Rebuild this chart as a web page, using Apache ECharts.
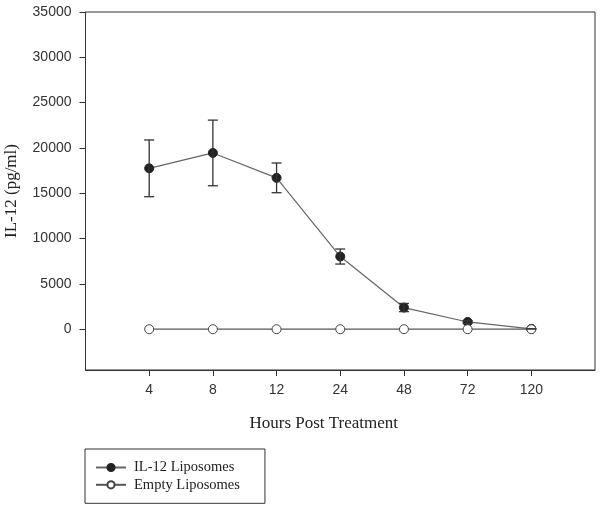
<!DOCTYPE html>
<html>
<head>
<meta charset="utf-8">
<script src="https://cdn.jsdelivr.net/npm/echarts@6/dist/echarts.min.js"></script>
<style>html,body{margin:0;padding:0;background:#fff}#c{width:602px;height:510px}</style>
</head>
<body>
<div id="c"></div>
<script>
var categories = ['4', '8', '12', '24', '48', '72', '120'];
var il12Values = [17750, 19450, 16700, 8020, 2390, 800, 40];
var il12Errors = [3130, 3620, 1640, 830, 450, 150, 0];
var emptyValues = [0, 0, 0, 0, 0, 0, 0];
var yTicks = [0, 5000, 10000, 15000, 20000, 25000, 30000, 35000];

var xPositions = categories.map(function (c, i) { return i + 1; });
var il12Data = il12Values.map(function (v, i) { return [xPositions[i], v]; });
var emptyData = emptyValues.map(function (v, i) { return [xPositions[i], v]; });
var errData = il12Values.map(function (v, i) { return [xPositions[i], v - il12Errors[i], v + il12Errors[i]]; });

var chart = echarts.init(document.getElementById('c'), null, { renderer: 'canvas' });
chart.setOption({
  animation: false,
  backgroundColor: '#fff',
  grid: { left: 85.5, right: 7, top: 12, bottom: 140, show: true, borderColor: '#333', borderWidth: 1, containLabel: false, outerBoundsMode: 'none' },
  xAxis: {
    type: 'value', min: 0, max: xPositions.length + 1,
    name: 'Hours Post Treatment', nameLocation: 'middle', nameGap: 45,
    nameTextStyle: { fontFamily: 'Liberation Serif', fontSize: 17, color: '#222', padding: [0, 33, 0, 0] },
    axisLine: { show: true, onZero: false, lineStyle: { color: '#333', width: 1 } },
    axisTick: { show: true, inside: false, length: 6, customValues: xPositions, lineStyle: { color: '#333', width: 1 } },
    axisLabel: { customValues: xPositions, margin: 13, fontFamily: 'Liberation Sans', fontSize: 14, color: '#333',
      formatter: function (v) { return categories[Math.round(v) - 1] || ''; } },
    splitLine: { show: false }
  },
  yAxis: {
    type: 'value', min: -4500, max: 35000,
    name: 'IL-12 (pg/ml)', nameLocation: 'middle', nameGap: 65, nameRotate: 90,
    nameTextStyle: { fontFamily: 'Liberation Serif', fontSize: 17, color: '#222' },
    axisLine: { show: true, lineStyle: { color: '#333', width: 1 } },
    axisTick: { show: true, inside: false, length: 6, customValues: yTicks, lineStyle: { color: '#333', width: 1 } },
    axisLabel: { customValues: yTicks, margin: 14, fontFamily: 'Liberation Sans', fontSize: 14, color: '#333',
      formatter: function (v) { return String(v); } },
    splitLine: { show: false }
  },
  legend: {
    left: 85, top: 449, orient: 'vertical',
    padding: [11, 25, 11, 10],
    borderColor: '#333', borderWidth: 1,
    itemWidth: 30, itemHeight: 9, itemGap: 2.3,
    textStyle: { fontFamily: 'Liberation Serif', fontSize: 14.5, color: '#222', padding: [0, 0, 0, 3] },
    data: ['IL-12 Liposomes', 'Empty Liposomes']
  },
  series: [
    {
      name: 'IL-12 Liposomes', type: 'line', data: il12Data,
      symbol: 'circle', symbolSize: 9, showSymbol: true,
      lineStyle: { color: '#666', width: 1.2 },
      itemStyle: { color: '#222', borderColor: '#222', borderWidth: 1 },
      z: 2
    },
    {
      name: 'Empty Liposomes', type: 'line', data: emptyData,
      symbol: 'circle', symbolSize: 9, showSymbol: true,
      lineStyle: { color: '#555', width: 1.2 },
      itemStyle: { color: '#fff', borderColor: '#444', borderWidth: 1 },
      z: 3
    },
    {
      name: 'err', type: 'custom', data: errData, z: 4,
      renderItem: function (params, api) {
        var x = api.value(0);
        var lo = api.coord([x, api.value(1)]);
        var hi = api.coord([x, api.value(2)]);
        var hw = 5;
        var st = { stroke: '#333', lineWidth: 1.3 };
        return {
          type: 'group',
          children: [
            { type: 'line', shape: { x1: lo[0], y1: lo[1], x2: hi[0], y2: hi[1] }, style: st },
            { type: 'line', shape: { x1: lo[0] - hw, y1: lo[1], x2: lo[0] + hw, y2: lo[1] }, style: st },
            { type: 'line', shape: { x1: hi[0] - hw, y1: hi[1], x2: hi[0] + hw, y2: hi[1] }, style: st }
          ]
        };
      }
    }
  ]
});
</script>
</body>
</html>
